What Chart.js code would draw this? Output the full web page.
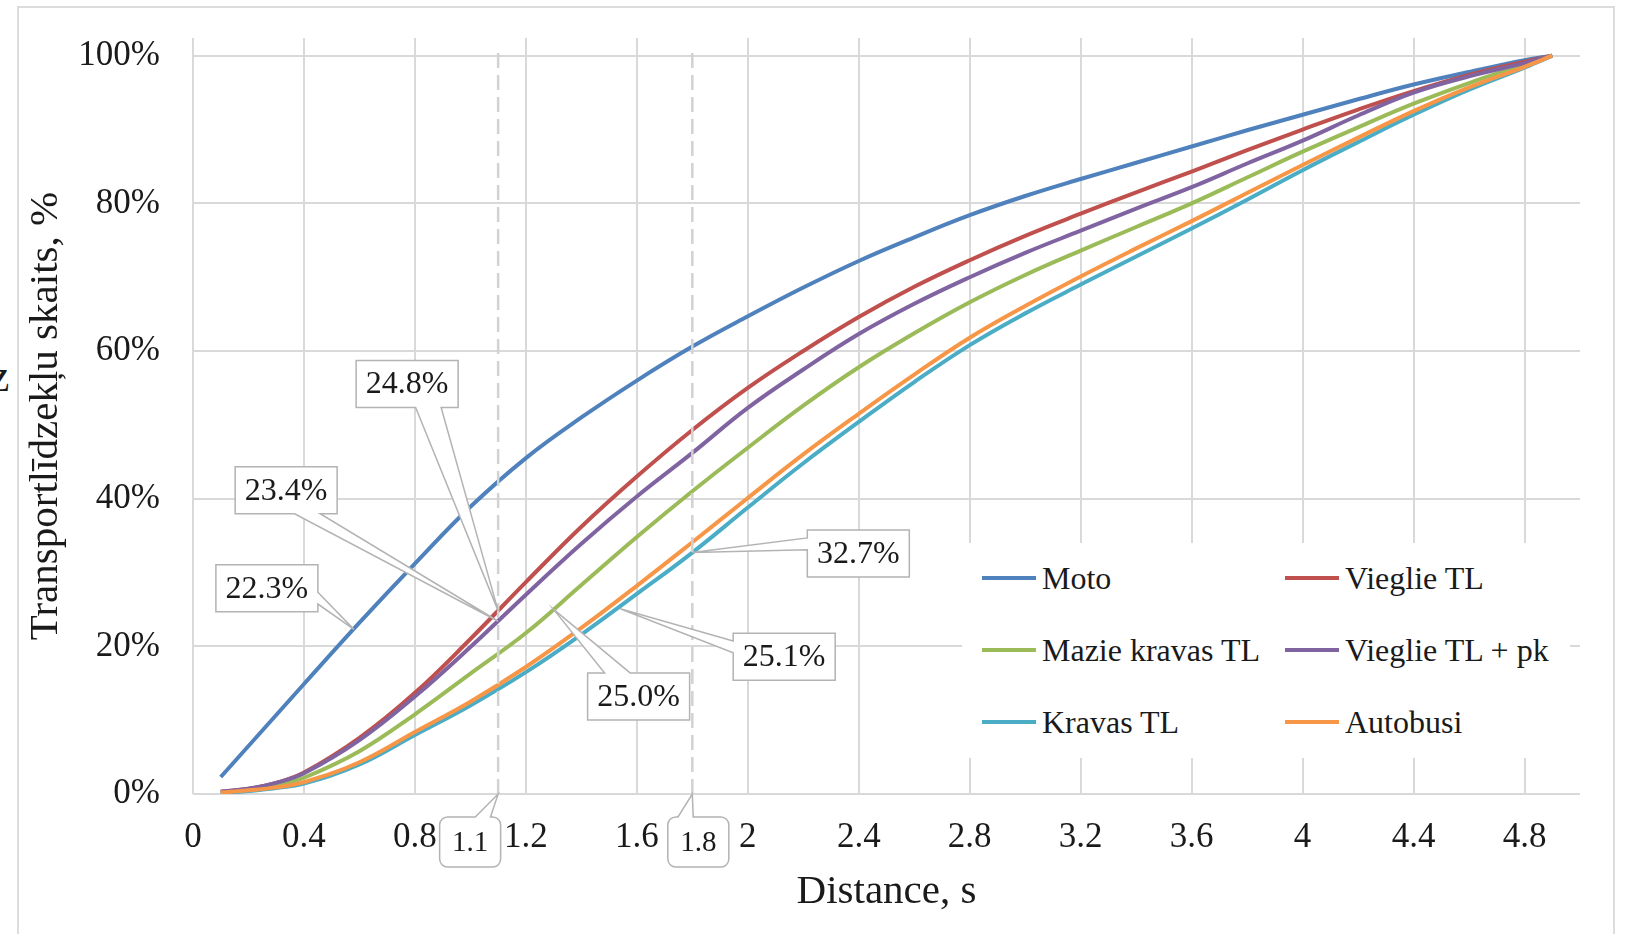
<!DOCTYPE html>
<html>
<head>
<meta charset="utf-8">
<script src="https://cdn.jsdelivr.net/npm/chart.js@4.4.1/dist/chart.umd.min.js"></script>
<style>
  html, body { margin: 0; padding: 0; background: #fff; }
  body {
    width: 1627px; height: 934px; overflow: hidden; position: relative;
    font-family: "Liberation Serif", "Times New Roman", serif; color: #1a1a1a;
  }
  #frame {
    position: absolute; left: 17px; top: 6px; width: 1598px; height: 960px;
    border: 2px solid #dcdcdc; box-sizing: border-box;
  }
  #chart { position: absolute; left: 0; top: 0; }
  #legend {
    position: absolute; left: 962px; top: 543px; width: 608px; height: 215px;
    background: #fff;
  }
  .item {
    position: absolute; height: 40px; display: flex; align-items: center;
    font-size: 32px; white-space: nowrap;
  }
  .swatch { width: 54px; height: 4px; margin-right: 6px; }
  #stray { position: absolute; left: -11px; top: 353px; font-size: 46px; line-height: 1; }
</style>
</head>
<body>
<div id="frame"></div>
<span id="stray">z</span>
<canvas id="chart" width="1627" height="934"></canvas>
<div id="legend"></div>

<script>
// ---- data ----
const xValues = [0.1, 0.2, 0.3, 0.4, 0.6, 0.8, 1.0, 1.2, 1.4, 1.6, 1.8, 2.0, 2.2, 2.4, 2.6, 2.8, 3.0,
                 3.2, 3.4, 3.6, 3.8, 4.0, 4.2, 4.4, 4.6, 4.8, 4.9];

const seriesNames = ["Moto", "Vieglie TL", "Mazie kravas TL", "Vieglie TL + pk", "Kravas TL", "Autobusi"];

const moto       = [2.3, 6.5, 10.7, 14.9, 23.2, 31.2, 38.9, 45.5, 51.0, 56.0, 60.6, 64.7, 68.6, 72.2, 75.4, 78.4, 81.0,
                    83.3, 85.5, 87.7, 89.9, 92.0, 94.1, 96.1, 97.8, 99.4, 100];
const vieglie    = [0.3, 0.7, 1.5, 2.9, 7.6, 13.7, 21.0, 28.7, 36.2, 43.0, 49.3, 55.0, 60.0, 64.6, 68.7, 72.3, 75.6,
                    78.6, 81.5, 84.3, 87.2, 90.0, 92.7, 95.2, 97.4, 99.2, 100];
const mazie      = [0.2, 0.5, 1.1, 2.2, 5.8, 10.8, 16.3, 21.8, 28.3, 34.8, 41.0, 46.9, 52.6, 57.8, 62.4, 66.6, 70.3,
                    73.6, 76.8, 80.0, 83.5, 87.0, 90.3, 93.5, 96.3, 98.8, 100];
const vieglieePk = [0.3, 0.7, 1.5, 2.8, 7.3, 13.2, 19.9, 27.0, 33.9, 40.3, 46.2, 52.3, 57.5, 62.3, 66.4, 70.0, 73.3,
                    76.3, 79.3, 82.2, 85.4, 88.5, 91.9, 95.0, 97.2, 99.0, 100];
const kravas     = [0.1, 0.4, 0.8, 1.4, 4.0, 8.0, 12.0, 16.5, 21.6, 27.1, 32.7, 38.8, 44.8, 50.4, 55.8, 60.8, 65.1,
                    69.0, 72.8, 76.6, 80.5, 84.5, 88.3, 92.0, 95.4, 98.4, 100];
const autobusi   = [0.2, 0.5, 0.9, 1.6, 4.3, 8.4, 12.5, 17.2, 22.5, 28.2, 34.1, 40.1, 46.0, 51.5, 56.8, 61.8, 66.1,
                    70.1, 73.9, 77.6, 81.4, 85.2, 88.9, 92.5, 95.7, 98.5, 100];

const seriesValues = [moto, vieglie, mazie, vieglieePk, kravas, autobusi];

const xTicks = [0, 0.4, 0.8, 1.2, 1.6, 2, 2.4, 2.8, 3.2, 3.6, 4, 4.4, 4.8];
const yTicks = [0, 20, 40, 60, 80, 100];

// vertical marker lines (s) and their top value
const markerX = [1.1, 1.8];
const markerTop = 101.2;

// data callouts
const calloutText = ["22.3%", "23.4%", "24.8%", "25.0%", "25.1%", "32.7%"];
const calloutX = [0.58, 1.1, 1.1, 1.3, 1.54, 1.8];
const calloutY = [22.3, 23.4, 24.8, 25.0, 25.1, 32.7];

// ---- styles / layout ----
const seriesColors = ["#4F81BD", "#C0504D", "#9BBB59", "#8064A2", "#4BACC6", "#F79646"];
const calloutOffset = [[-87, -41], [-212, -131], [-91, -227], [85, 87], [164, 48], [166, 1]];
const calloutSide = ["right", "bottom", "bottom", "top", "left", "left"];
const markerOffset = [[-28, 48], [6, 48]];
const GRID = "#d9d9d9";
const FONT = '"Liberation Serif", "Times New Roman", serif';
const TEXT = "#1a1a1a";

Chart.defaults.font.family = FONT;
Chart.defaults.color = TEXT;

function drawCallout(ctx, cx, cy, w, h, tx, ty, r, side, text, size) {
  const x0 = cx - w / 2, y0 = cy - h / 2, x1 = cx + w / 2, y1 = cy + h / 2;
  if (!side) {
    const rx = (tx - cx) / w, ry = (ty - cy) / h;
    side = Math.abs(rx) > Math.abs(ry) ? (rx < 0 ? "left" : "right") : (ry < 0 ? "top" : "bottom");
  }
  const fx = tx < cx ? [2 / 12, 5 / 12] : [7 / 12, 10 / 12];
  const fy = ty < cy ? [2 / 12, 5 / 12] : [7 / 12, 10 / 12];

  ctx.beginPath();
  ctx.moveTo(x0 + r, y0);
  if (side === "top") { ctx.lineTo(x0 + fx[0] * w, y0); ctx.lineTo(tx, ty); ctx.lineTo(x0 + fx[1] * w, y0); }
  ctx.arcTo(x1, y0, x1, y0 + r, r);
  if (side === "right") { ctx.lineTo(x1, y0 + fy[0] * h); ctx.lineTo(tx, ty); ctx.lineTo(x1, y0 + fy[1] * h); }
  ctx.arcTo(x1, y1, x1 - r, y1, r);
  if (side === "bottom") { ctx.lineTo(x0 + fx[1] * w, y1); ctx.lineTo(tx, ty); ctx.lineTo(x0 + fx[0] * w, y1); }
  ctx.arcTo(x0, y1, x0, y1 - r, r);
  if (side === "left") { ctx.lineTo(x0, y0 + fy[1] * h); ctx.lineTo(tx, ty); ctx.lineTo(x0, y0 + fy[0] * h); }
  ctx.arcTo(x0, y0, x0 + r, y0, r);
  ctx.closePath();
  ctx.fillStyle = "#fff";
  ctx.fill();
  ctx.strokeStyle = "#b3b3b3";
  ctx.lineWidth = 1.5;
  ctx.stroke();

  ctx.fillStyle = TEXT;
  ctx.font = `${size}px ${FONT}`;
  ctx.textAlign = "center";
  ctx.textBaseline = "middle";
  ctx.fillText(text, cx, cy + 1);
}

const calloutPlugin = {
  id: "callouts",
  afterDatasetsDraw(chart) {
    const { ctx, scales: { x, y } } = chart;
    ctx.save();
    calloutText.forEach((t, i) => {
      const tx = x.getPixelForValue(calloutX[i]);
      const ty = y.getPixelForValue(calloutY[i]);
      const [ox, oy] = calloutOffset[i];
      drawCallout(ctx, tx + ox, ty + oy, 102, 47, tx, ty, 0, calloutSide[i], t, 32);
    });
    markerX.forEach((v, i) => {
      const tx = x.getPixelForValue(v);
      const ty = y.getPixelForValue(0);
      const [ox, oy] = markerOffset[i];
      drawCallout(ctx, tx + ox, ty + oy, 61, 50, tx, ty, 8, null, String(v), 29);
    });
    ctx.restore();
  },
};

const curveSets = seriesNames.map((name, i) => ({
  label: name,
  data: xValues.map((xv, k) => ({ x: xv, y: seriesValues[i][k] })),
  borderColor: seriesColors[i],
  backgroundColor: seriesColors[i],
  borderWidth: 4,
  pointRadius: 0,
  tension: 0.4,
  order: 10 - i,
}));

const markerSets = markerX.map((v) => ({
  label: "",
  data: [{ x: v, y: 0 }, { x: v, y: markerTop }],
  borderColor: "#d2d2d2",
  borderWidth: 2.5,
  borderDash: [15, 7],
  pointRadius: 0,
  order: 0,
}));

const fmtX = (v) => String(+Number(v).toFixed(1));

new Chart(document.getElementById("chart"), {
  type: "line",
  data: { datasets: [...curveSets, ...markerSets] },
  options: {
    responsive: false,
    animation: false,
    events: [],
    layout: { padding: { top: 38, right: 47, bottom: 0, left: 0 } },
    plugins: { legend: { display: false }, tooltip: { enabled: false } },
    scales: {
      x: {
        type: "linear",
        min: 0,
        max: 5,
        afterBuildTicks: (axis) => { axis.ticks = xTicks.map((value) => ({ value })); },
        afterFit: (s) => { s.height = 140; s.paddingLeft = 0; s.paddingRight = 0; },
        ticks: {
          autoSkip: false, maxRotation: 0, padding: 23,
          font: { size: 35 }, color: TEXT,
          callback: (v) => fmtX(v),
        },
        grid: { color: GRID, lineWidth: 2, drawTicks: false },
        border: { display: false },
        title: {
          display: true, text: "Distance, s", color: TEXT,
          font: { size: 41 }, padding: { top: 0, bottom: 17 },
        },
      },
      y: {
        type: "linear",
        min: 0,
        max: 102.4,
        afterBuildTicks: (axis) => { axis.ticks = yTicks.map((value) => ({ value })); },
        afterFit: (s) => { s.width = 193; s.paddingTop = 0; s.paddingBottom = 0; },
        ticks: {
          padding: 33, font: { size: 35 }, color: TEXT,
          callback: (v) => `${v}%`,
        },
        grid: { color: GRID, lineWidth: 2, drawTicks: false },
        border: { display: false },
        title: {
          display: true, text: "Transportlīdzekļu skaits, %", color: TEXT,
          font: { size: 41 }, padding: { top: 22, bottom: 0 },
        },
      },
    },
  },
  plugins: [calloutPlugin],
});

// legend: two columns, row-major like the original
const legendEl = document.getElementById("legend");
const colLeft = [20, 323];
const rowTop = [15, 87, 159];
seriesNames.forEach((name, i) => {
  const item = document.createElement("div");
  item.className = "item";
  item.style.left = colLeft[i % 2] + "px";
  item.style.top = rowTop[Math.floor(i / 2)] + "px";
  const sw = document.createElement("span");
  sw.className = "swatch";
  sw.style.background = seriesColors[i];
  const label = document.createElement("span");
  label.textContent = name;
  item.append(sw, label);
  legendEl.appendChild(item);
});
</script>
</body>
</html>
